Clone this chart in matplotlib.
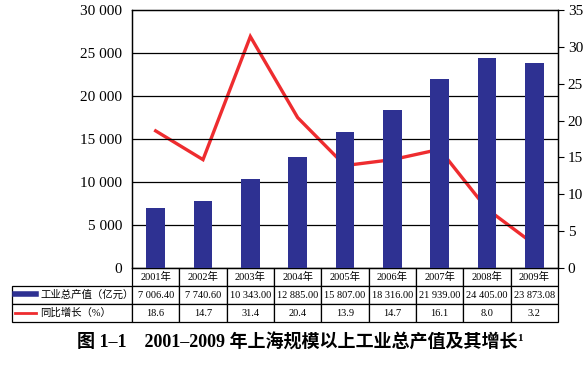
import matplotlib
matplotlib.use("Agg")
import matplotlib.pyplot as plt
from matplotlib.lines import Line2D

plt.rcParams["font.family"] = ["Liberation Serif", "Noto Sans CJK SC"]

years = ["2001年", "2002年", "2003年", "2004年", "2005年", "2006年", "2007年", "2008年", "2009年"]
output = [7006.40, 7740.60, 10343.00, 12885.00, 15807.00, 18316.00, 21939.00, 24405.00, 23873.08]
output_text = ["7 006.40", "7 740.60", "10 343.00", "12 885.00", "15 807.00",
               "18 316.00", "21 939.00", "24 405.00", "23 873.08"]
growth = [18.6, 14.7, 31.4, 20.4, 13.9, 14.7, 16.1, 8.0, 3.2]
growth_text = ["18.6", "14.7", "31.4", "20.4", "13.9", "14.7", "16.1", "8.0", "3.2"]
left_ticks = [0, 5000, 10000, 15000, 20000, 25000, 30000]
right_ticks = [0, 5, 10, 15, 20, 25, 30, 35]
series_names = ["工业总产值（亿元）", "同比增长（%）"]
title = "图 1–1\u30002001–2009 年上海规模以上工业总产值及其增长"

navy = "#2e3192"
red = "#ee2c2f"

W, H = 587, 384
fig = plt.figure(figsize=(W / 100, H / 100), dpi=100)
ax = fig.add_axes([132 / W, 1 - 268 / H, 426 / W, 258 / H])
ax2 = ax.twinx()

# line sits behind the bars
ax2.set_zorder(ax.get_zorder() - 1)
ax.patch.set_visible(False)

x = list(range(len(years)))
ax.bar(x, output, width=0.4, color=navy, zorder=3)
ax2.plot(x, growth, color=red, lw=2.4, solid_joinstyle="miter")

ax.set_xlim(-0.5, len(years) - 0.5)
ax.set_ylim(0, 30000)
ax2.set_ylim(0, 35)

for v in left_ticks[1:-1]:
    ax.axhline(v, color="black", lw=0.9, zorder=1)

ax.set_yticks(left_ticks)
ax.set_yticklabels([f"{v:,}".replace(",", " ") for v in left_ticks])
ax.tick_params(axis="y", length=0, pad=7, labelsize=11)
ax.set_xticks([])
ax2.set_yticks(right_ticks)
ax2.tick_params(axis="y", direction="out", length=4, width=0.8, pad=3, labelsize=11)
for a in (ax, ax2):
    for s in a.spines.values():
        s.set_linewidth(0.9)

# data table under the plot; first column holds the legend keys
tbl = ax.table(cellText=[[""] + output_text, [""] + growth_text], colLabels=[""] + years,
               cellLoc="center", colWidths=[120 / 546] + [47.33 / 546] * len(years),
               bbox=[(12 - 132) / 426, -(322 - 268) / 258, (558 - 12) / 426, 54 / 258])
tbl.auto_set_font_size(False)
tbl.set_fontsize(7.5)
for (r, c), cell in tbl.get_celld().items():
    cell.set_linewidth(0.9)
    cell.PAD = 0.02
tbl[0, 0].set_visible(False)

handles = [Line2D([], [], color=navy, lw=4), Line2D([], [], color=red, lw=2)]
fig.legend(handles, series_names, loc="center left", bbox_to_anchor=(15 / W, 1 - 304 / H),
           frameon=False, fontsize=7.5, handlelength=2.0, handletextpad=0.4,
           labelspacing=0.75, borderpad=0, borderaxespad=0)

t = fig.text(297 / W, 1 - 343 / H, title, ha="center", va="center",
             fontsize=13, fontweight="bold")
ax.annotate("1", xy=(1, 1), xycoords=t, ha="left", va="top", fontsize=8, fontweight="bold")

fig.savefig("out.png", dpi=100)
